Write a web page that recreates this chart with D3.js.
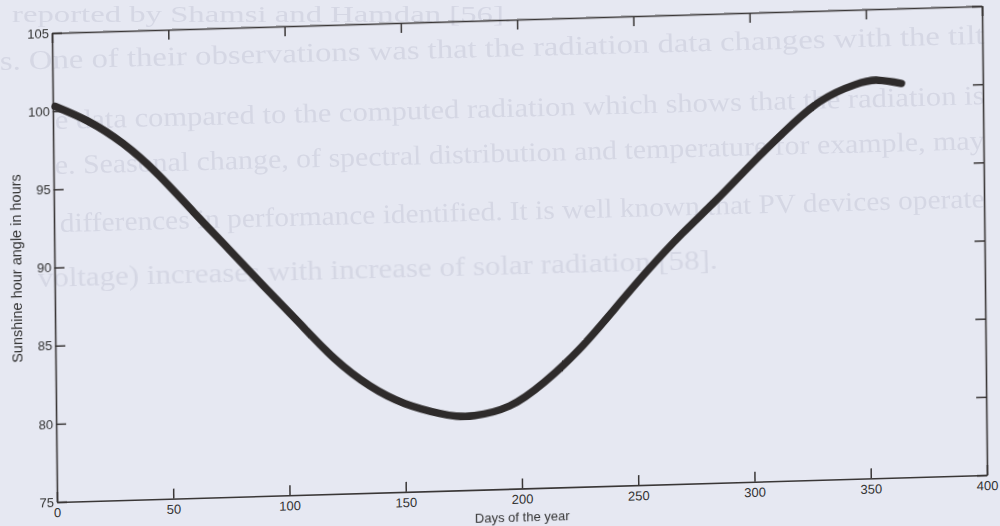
<!DOCTYPE html>
<html><head><meta charset="utf-8">
<script src="https://cdn.jsdelivr.net/npm/d3@7"></script>
<style>
html,body{margin:0;padding:0;background:#e6e8f2;}
svg{display:block;}
</style></head><body>
<svg id="chart" width="1000" height="526"></svg>
<script>
// ---- data ----
const days = [1,15,30,45,60,75,90,105,120,135,150,165,172,180,195,210,225,240,255,270,285,300,315,330,345,355,365];
const hourAngle = [100.3,99.3,97.8,95.75,93.3,90.85,88.4,86.0,83.65,81.85,80.65,79.95,79.75,79.75,80.3,81.75,83.75,86.2,88.7,91.0,93.1,95.3,97.4,99.2,100.2,100.45,100.2];
const xTicks = [0,50,100,150,200,250,300,350,400];
const yTicks = [75,80,85,90,95,100,105];
const xTitle = "Days of the year";
const yTitle = "Sunshine hour angle in hours";
// faint show-through text of the scanned page
const pageLines = [
  "reported by Shamsi and Hamdan [56].",
  "s. One of their observations was that the radiation data changes with the tilt",
  "e data compared to the computed radiation which shows that the radiation is",
  "e. Seasonal change, of spectral distribution and temperature for example, may",
  "differences in performance identified. It is well known that PV devices operate",
  "voltage) increases with increase of solar radiation [58]."
];
const pageLineX = [12, 0, 55, 55, 60, 38];
const pageLineY = [22, 70, 129, 174, 232, 287];
const pageLineLen = [500, 985, 930, 930, 925, 680];
const pageLineSize = [23, 27, 27, 27, 27, 27];
const pageLineTilt = [0, -1.53, -1.53, -1.53, -1.53, -1.53];

const svg = d3.select("#chart");
const W = 930, H = 469;

const defs = svg.append("defs");
defs.append("filter").attr("id", "soft")
  .append("feGaussianBlur").attr("stdDeviation", 0.7);

// background show-through
const ghost = svg.append("g").attr("filter", "url(#soft)");
pageLines.forEach((t,i)=>{
  ghost.append("text")
    .attr("x", pageLineX[i]).attr("y", pageLineY[i])
    .attr("transform", `rotate(${pageLineTilt[i]} ${pageLineX[i]} ${pageLineY[i]})`)
    .attr("font-family", "'Liberation Serif', 'Times New Roman', serif")
    .attr("font-size", pageLineSize[i])
    .attr("textLength", pageLineLen[i])
    .attr("lengthAdjust", "spacingAndGlyphs")
    .attr("fill", "#d5d7e4")
    .text(t);
});

// chart group: slight skew of the scanned page
const g = svg.append("g").attr("transform", "matrix(1,-0.029,0.0107,1,52,33)");

const x = d3.scaleLinear().domain([0,400]).range([0,W]);
const y = d3.scaleLinear().domain([75,105]).range([H,0]);

const axisColor = "#3a3737";
const font = "'Liberation Sans', Arial, sans-serif";

function styleAxis(sel){
  sel.selectAll("path.domain").attr("stroke", axisColor).attr("stroke-width", 1.6);
  sel.selectAll(".tick line").attr("stroke", axisColor).attr("stroke-width", 1.5);
  sel.selectAll(".tick text").attr("fill", "#333").attr("font-family", font).attr("font-size", 13);
  sel.attr("font-family", font);
}

g.append("g").attr("transform", `translate(0,${H})`)
  .call(d3.axisBottom(x).tickValues(xTicks).tickSize(-10).tickSizeOuter(0).tickPadding(6))
  .call(styleAxis);
g.append("g")
  .call(d3.axisTop(x).tickValues(xTicks).tickSize(-10).tickSizeOuter(0).tickFormat(""))
  .call(styleAxis);
g.append("g")
  .call(d3.axisLeft(y).tickValues(yTicks).tickSize(-10).tickSizeOuter(0).tickPadding(3))
  .call(styleAxis);
g.append("g").attr("transform", `translate(${W},0)`)
  .call(d3.axisRight(y).tickValues(yTicks).tickSize(-10).tickSizeOuter(0).tickFormat(""))
  .call(styleAxis);

// curve
const pts = days.map((d,i)=>[d, hourAngle[i]]);
g.append("path")
  .datum(pts)
  .attr("fill", "none")
  .attr("stroke", "#2e2b2b")
  .attr("stroke-width", 7.5)
  .attr("stroke-linecap", "round")
  .attr("stroke-linejoin", "round")
  .attr("d", d3.line().x(d=>x(d[0])).y(d=>y(d[1])).curve(d3.curveNatural));

// titles
g.append("text")
  .attr("x", W/2).attr("y", H + 33)
  .attr("text-anchor", "middle")
  .attr("font-family", font).attr("font-size", 13).attr("fill", "#333")
  .text(xTitle);
g.append("text")
  .attr("transform", `translate(-33,${H/2}) rotate(-90)`)
  .attr("text-anchor", "middle")
  .attr("font-family", font).attr("font-size", 14.5).attr("fill", "#333")
  .text(yTitle);
</script>
</body></html>
